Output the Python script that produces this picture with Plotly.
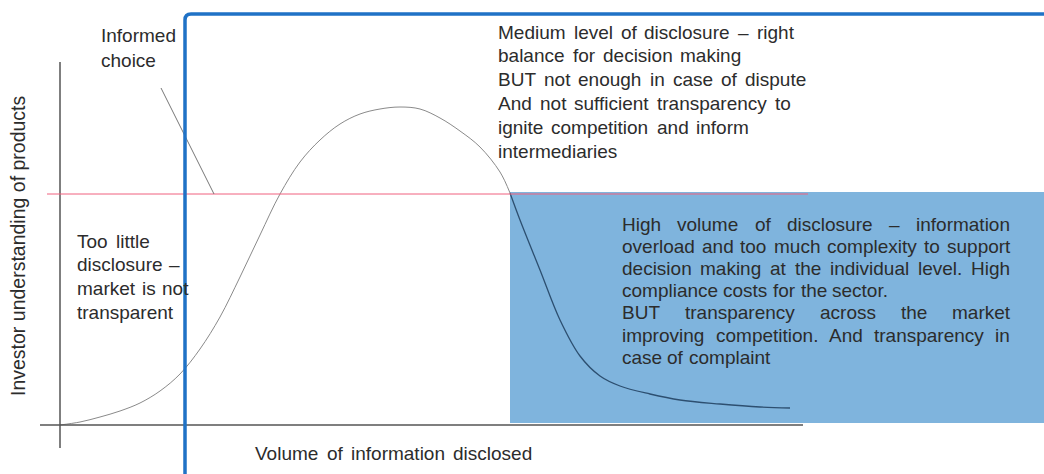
import plotly.graph_objects as go

# curve: volume of information disclosed vs investor understanding
volume = [0, 20, 40, 60, 80, 100, 120, 140, 160, 180, 200, 220, 240, 260, 280, 300, 320, 340,
          360, 380, 400, 420, 440, 450, 460, 480, 500, 520, 540, 560, 590, 620, 660, 700, 730]
understanding = [0, 3, 8, 14, 22, 34, 51, 76, 108, 148, 190, 231, 263, 285, 301, 311, 316, 318,
                 316, 307, 294, 278, 253, 232, 205, 155, 105, 69, 49, 39, 31, 25, 21, 18, 17]
split_at = 23  # curve enters the "high volume" zone here

informed_level = 231
high_zone_start = 450

informed_lines = ["Informed", "choice"]
little_lines = ["Too little", "disclosure \u2013", "market is not", "transparent"]
medium_lines = ["Medium level of disclosure \u2013 right",
                "balance for decision making",
                "BUT not enough in case of dispute",
                "And not sufficient transparency to",
                "ignite competition and inform",
                "intermediaries"]
high_lines = ["High volume of disclosure \u2013 information",
              "overload and too much complexity to support",
              "decision making at the individual level. High",
              "compliance costs for the sector.",
              "BUT transparency across the market",
              "improving competition. And transparency in",
              "case of complaint"]
high_justify = [True, True, True, False, True, True, False]

x_title = "Volume of information disclosed"
y_title = "Investor understanding of products"

TXT = "#2c2c2c"
FONT = "Liberation Sans, Arial, sans-serif"

# Arial / Liberation Sans advance widths (per 1000 em)
AW = {" ": 278, "a": 556, "b": 556, "c": 500, "d": 556, "e": 556, "f": 278, "g": 556,
      "h": 556, "i": 222, "j": 222, "k": 500, "l": 222, "m": 833, "n": 556, "o": 556,
      "p": 556, "q": 556, "r": 333, "s": 500, "t": 278, "u": 556, "v": 500, "w": 722,
      "x": 500, "y": 500, "z": 500, "H": 722, "B": 667, "U": 722, "T": 611, "A": 667,
      "I": 278, "M": 833, "V": 667, "\u2013": 556, ".": 278}


def text_w(s, size):
    return sum(AW.get(c, 556) for c in s) * size / 1000.0


annots = []


def put_line(line, x, y, size=19, gap=8, width=None):
    words = line.split(" ")
    ws = [text_w(w, size) for w in words]
    if width is not None and len(words) > 1:
        gap = (width - sum(ws)) / (len(words) - 1)
    for w, ww in zip(words, ws):
        annots.append(dict(x=x, y=y, xref="x", yref="y", text=w, showarrow=False,
                           xanchor="left", yanchor="middle", borderpad=0, borderwidth=0,
                           font=dict(family=FONT, size=size, color=TXT)))
        x += ww + gap


for i, ln in enumerate(informed_lines):
    put_line(ln, 41, 390 - 25 * i)
for i, ln in enumerate(little_lines):
    put_line(ln, 17, 184 - 23.7 * i, gap=6.5)
for i, ln in enumerate(medium_lines):
    put_line(ln, 438, 393 - 23.8 * i)
for i, ln in enumerate(high_lines):
    put_line(ln, 562, 201 - 22.2 * i, gap=5.3, width=388 if high_justify[i] else None)
put_line(x_title, 195, -28)

annots.append(dict(x=-42, y=179, xref="x", yref="y", text=y_title, showarrow=False,
                   textangle=-90, xanchor="center", yanchor="middle",
                   font=dict(family=FONT, size=19.5, color=TXT)))

fig = go.Figure()
fig.add_trace(go.Scatter(x=volume[:split_at + 1], y=understanding[:split_at + 1],
                         mode="lines",
                         line=dict(color="#8a8a8a", width=1, shape="spline", smoothing=1),
                         hoverinfo="skip"))
fig.add_trace(go.Scatter(x=volume[split_at:], y=understanding[split_at:],
                         mode="lines",
                         line=dict(color="#2d4f70", width=1.3, shape="spline", smoothing=1),
                         hoverinfo="skip"))

shapes = [
    # high volume zone
    dict(type="rect", x0=high_zone_start, x1=984, y0=2, y1=233, layer="below",
         fillcolor="#7fb4dd", line=dict(width=0)),
    # axes
    dict(type="line", x0=-20, x1=743, y0=0, y1=0, line=dict(color="#555555", width=1.5)),
    dict(type="line", x0=0, x1=0, y0=-23, y1=363, line=dict(color="#555555", width=1.5)),
    # informed choice level
    dict(type="line", x0=-13, x1=748, y0=informed_level, y1=informed_level,
         line=dict(color="#f0607e", width=1)),
    # pointer from label
    dict(type="line", x0=101, x1=154, y0=337, y1=231, line=dict(color="#777777", width=1)),
    # blue frame
    dict(type="path", path="M 125,-49 L 125,405 Q 125,411 131,411 L 990,411",
         line=dict(color="#1f72c6", width=3.5)),
]

fig.update_layout(
    width=1044, height=474,
    margin=dict(l=0, r=0, t=0, b=0),
    paper_bgcolor="white", plot_bgcolor="white",
    showlegend=False,
    xaxis=dict(range=[-60, 984], visible=False, fixedrange=True),
    yaxis=dict(range=[-49, 425], visible=False, fixedrange=True),
    shapes=shapes, annotations=annots,
)

fig.write_html("out.html", config={"displayModeBar": False},
               post_script="document.body.style.margin='0';")
